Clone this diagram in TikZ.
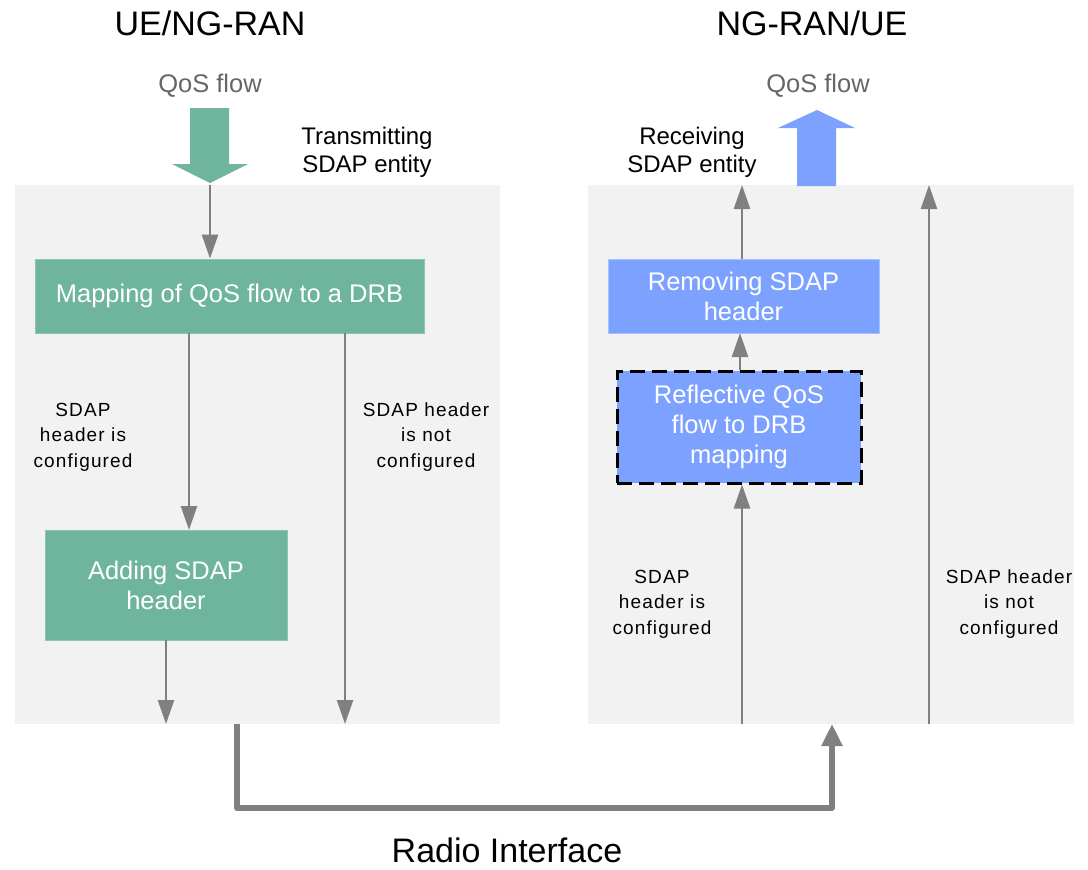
\documentclass[tikz,border=0pt]{standalone}
\usepackage{fontspec}
\setmainfont{Liberation Sans}
\usetikzlibrary{arrows.meta}
\definecolor{panelgray}{HTML}{F2F2F2}
\definecolor{sdapgreen}{HTML}{6FB59D}
\definecolor{sdapblue}{HTML}{7CA1FF}
\definecolor{blueedge}{HTML}{A9C0FF}
\definecolor{linegray}{HTML}{808080}
\definecolor{qosgray}{HTML}{666666}
\tikzset{
  panel/.style={fill=panelgray, draw=none, inner sep=0pt},
  greenbox/.style={fill=sdapgreen, draw=sdapgreen!80!white, line width=0.8pt, text=white, align=center, inner sep=0pt,
    font=\fontsize{25.5}{30}\selectfont},
  bluebox/.style={fill=sdapblue, draw=blueedge, line width=0.8pt, text=white, align=center, inner sep=0pt,
    font=\fontsize{25.5}{30}\selectfont},
  reflbox/.style={bluebox, draw=black, line width=3pt, dash pattern=on 15pt off 7pt},
  title/.style={font=\fontsize{34}{40}\selectfont, inner sep=0pt},
  qos/.style={font=\fontsize{25.5}{30}\selectfont, text=qosgray, inner sep=0pt},
  entity/.style={font=\fontsize{24}{28}\selectfont, align=center, inner sep=0pt},
  cond/.style={font=\fontsize{19}{25.5}\selectfont\addfontfeature{LetterSpace=6}, align=center, inner sep=0pt},
  flow/.style={draw=linegray, line width=2.5pt, -{Triangle[length=24pt,width=16pt]}},
  radio/.style={draw=linegray, line width=6pt, line join=round, -{Triangle[length=22pt,width=20pt]}},
}
\begin{document}
\begin{tikzpicture}[x=1pt,y=-1pt]
\useasboundingbox (0,0) rectangle (1088,870);

% entity panels
\node[panel, minimum width=485pt, minimum height=539pt] (lpanel) at (257.5,454.5) {};
\node[panel, minimum width=486pt, minimum height=539pt] (rpanel) at (831,454.5) {};

% headings
\node[title] (lhead) at (210,23) {UE/NG-RAN};
\node[title] (rhead) at (812,23) {NG-RAN/UE};
\node[qos] (lqos) at (210,86) {QoS flow};
\node[qos] (rqos) at (818,86) {QoS flow};

% block arrows for the QoS flows
\fill[sdapgreen] (190,108) -- (229,108) -- (229,164) -- (248,164) -- (210,183) -- (172,164) -- (190,164) -- cycle;
\fill[sdapblue] (797,186) -- (797,128) -- (778,128) -- (817,110) -- (855,128) -- (836,128) -- (836,186) -- cycle;

\node[entity] (tx) at (367,152) {Transmitting\\SDAP entity};
\node[entity] (rx) at (692,152) {Receiving\\SDAP entity};

% transmitting side
\node[greenbox, minimum width=389pt, minimum height=74pt] (map) at (229.5,296) {Mapping of QoS flow to a DRB};
\node[greenbox, minimum width=242pt, minimum height=110pt] (add) at (166,585) {Adding SDAP\\header};

\coordinate (tin) at (210,185);
\coordinate (tout1) at (166,724);
\coordinate (tout2) at (345,724);
\draw[flow] (tin) -- (tin |- map.north);
\draw[flow] (189,333) -- (189,530);
\draw[flow] (add.south -| tout1) -- (tout1);
\draw[flow] (map.south -| tout2) -- (tout2);

\node[cond] (lcfg) at (83,437) {SDAP\\header is\\configured};
\node[cond] (lncfg) at (426,437) {SDAP header\\is not\\configured};

% receiving side
\node[bluebox, minimum width=271pt, minimum height=74pt] (rem) at (743.5,296) {Removing SDAP\\header};
\node[reflbox, minimum width=244pt, minimum height=112pt] (refl) at (739,427) {Reflective QoS\\flow to DRB\\mapping};

\coordinate (rout) at (742,185);
\coordinate (rin1) at (742,724);
\coordinate (rin2) at (929,724);
\coordinate (rout2) at (929,185);
\draw[flow] (rem.north -| rout) -- (rout);
\draw[flow] (740,369.5) -- (740,333);
\draw[flow] (rin1) -- (rin1 |- refl.south);
\draw[flow] (rin2) -- (rout2);

\node[cond] (rcfg) at (662,604) {SDAP\\header is\\configured};
\node[cond] (rncfg) at (1009,604) {SDAP header\\is not\\configured};

% radio interface between the two entities
\coordinate (air1) at (237,724);
\coordinate (air2) at (832,724);
\draw[radio] (air1) -- (237,808) -- (832,808) -- (air2);
\node[font=\fontsize{34}{40}\selectfont, inner sep=0pt, anchor=base] (radio) at (507,862) {Radio Interface};
\end{tikzpicture}
\end{document}
